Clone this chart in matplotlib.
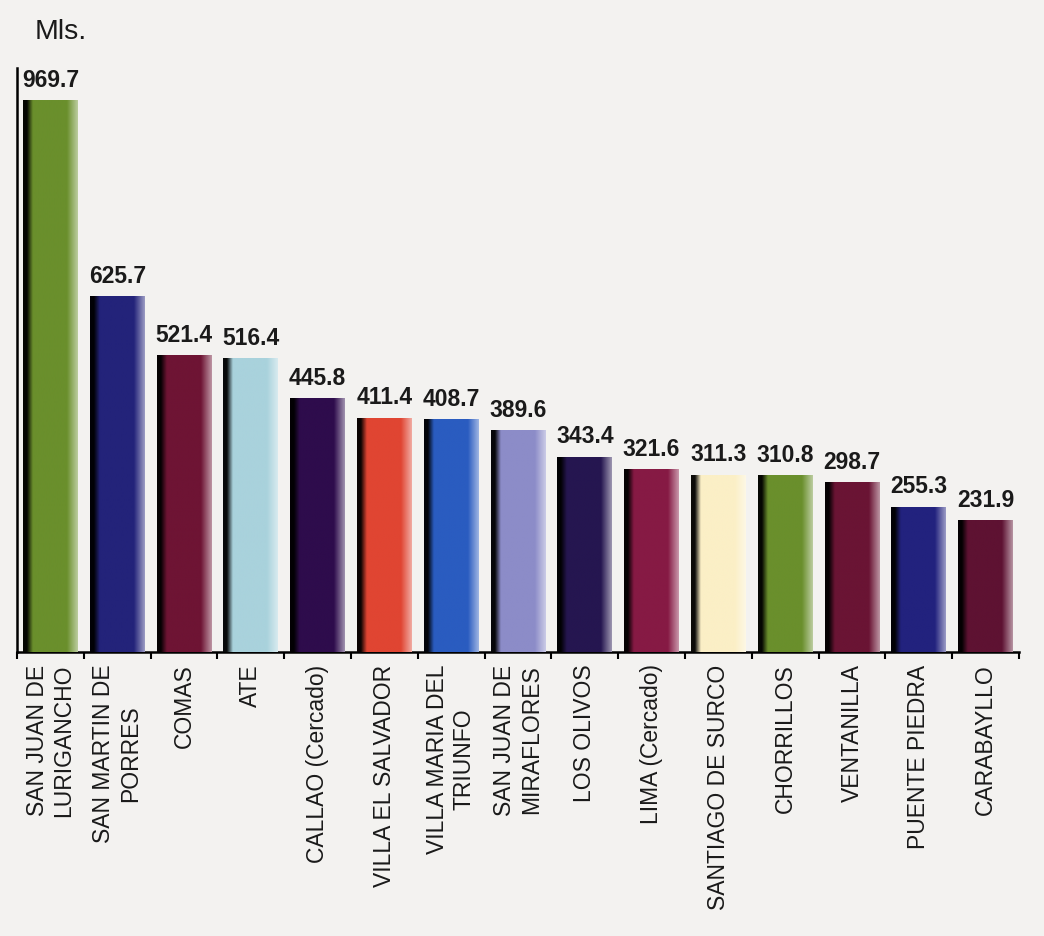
import numpy as np
import matplotlib
matplotlib.use("Agg")
import matplotlib.pyplot as plt
from matplotlib import font_manager
from matplotlib.colors import to_rgb

# datos (miles de habitantes por distrito)
distritos = ["SAN JUAN DE\nLURIGANCHO", "SAN MARTIN DE\nPORRES", "COMAS", "ATE",
             "CALLAO (Cercado)", "VILLA EL SALVADOR", "VILLA MARIA DEL\nTRIUNFO",
             "SAN JUAN DE\nMIRAFLORES", "LOS OLIVOS", "LIMA (Cercado)",
             "SANTIAGO DE SURCO", "CHORRILLOS", "VENTANILLA", "PUENTE PIEDRA",
             "CARABAYLLO"]
poblacion = [969.7, 625.7, 521.4, 516.4, 445.8, 411.4, 408.7, 389.6,
             343.4, 321.6, 311.3, 310.8, 298.7, 255.3, 231.9]
colores = ["#6a8f2c", "#23237a", "#6e1434", "#a9d2dc", "#2e0c4c", "#e04532",
           "#2a5cc0", "#8c8cc8", "#251650", "#861a44", "#fbefc6", "#6a8f2c",
           "#6a1434", "#22227e", "#5e1232"]

nombres = {f.name for f in font_manager.fontManager.ttflist}
fuente = "Liberation Sans" if "Liberation Sans" in nombres else "DejaVu Sans"
fuente_num = "Liberation Sans Narrow" if "Liberation Sans Narrow" in nombres else fuente
tam_num = 18 if fuente_num.endswith("Narrow") else 16.5

fondo = "#f3f2f0"
fig = plt.figure(figsize=(10.44, 9.36), dpi=100, facecolor=fondo)
ax = fig.add_axes([17 / 1044, 1 - 652 / 936, (1019 - 17) / 1044, (652 - 68) / 936])
ax.set_facecolor(fondo)

x = np.arange(len(distritos))
barras = ax.bar(x, poblacion, width=0.82, color=colores, zorder=2)

# sombreado 3D: borde izquierdo oscuro, borde derecho claro
t = np.linspace(0, 1, 200)
for barra, c in zip(barras, colores):
    base = np.array(to_rgb(c))
    oscuro = base * 0.05
    claro = base + (1 - base) * 0.55
    grad = np.empty((1, len(t), 3))
    for k, tt in enumerate(t):
        if tt < 0.07:
            grad[0, k] = oscuro
        elif tt < 0.18:
            f = (tt - 0.07) / 0.11
            grad[0, k] = oscuro * (1 - f) + base * f
        elif tt < 0.8:
            grad[0, k] = base
        else:
            f = (tt - 0.8) / 0.2
            grad[0, k] = base * (1 - f) + claro * f
    x0 = barra.get_x()
    im = ax.imshow(grad, extent=(x0, x0 + barra.get_width(), 0, barra.get_height()),
                   aspect="auto", zorder=3, interpolation="bilinear")
    im.set_clip_path(barra)

for xi, v in zip(x, poblacion):
    ax.annotate(f"{v:.1f}", (xi, v), xytext=(0, 6), textcoords="offset points",
                ha="center", va="bottom", fontsize=tam_num, fontweight="bold",
                family=fuente_num, color="#1a1a1a")

ax.set_xlim(-0.5, len(distritos) - 0.5)
ax.set_ylim(0, 1026)
ax.set_yticks([])
ax.set_xticks(x)
ax.set_xticklabels(distritos, rotation=90, fontsize=16.5, family=fuente,
                   multialignment="center", color="#1a1a1a")
ax.set_xticks(np.arange(-0.5, len(distritos)), minor=True)
ax.tick_params(axis="x", which="major", length=0, pad=9)
ax.tick_params(axis="x", which="minor", length=5, width=1.5, direction="out")
for lado in ["top", "right"]:
    ax.spines[lado].set_visible(False)
ax.spines["left"].set_linewidth(1.8)
ax.spines["bottom"].set_linewidth(1.8)

fig.text(35 / 1044, 1 - 39 / 936, "Mls.", fontsize=20.5, family=fuente, color="#1a1a1a")

fig.savefig("out.png", dpi=100, facecolor=fondo)
